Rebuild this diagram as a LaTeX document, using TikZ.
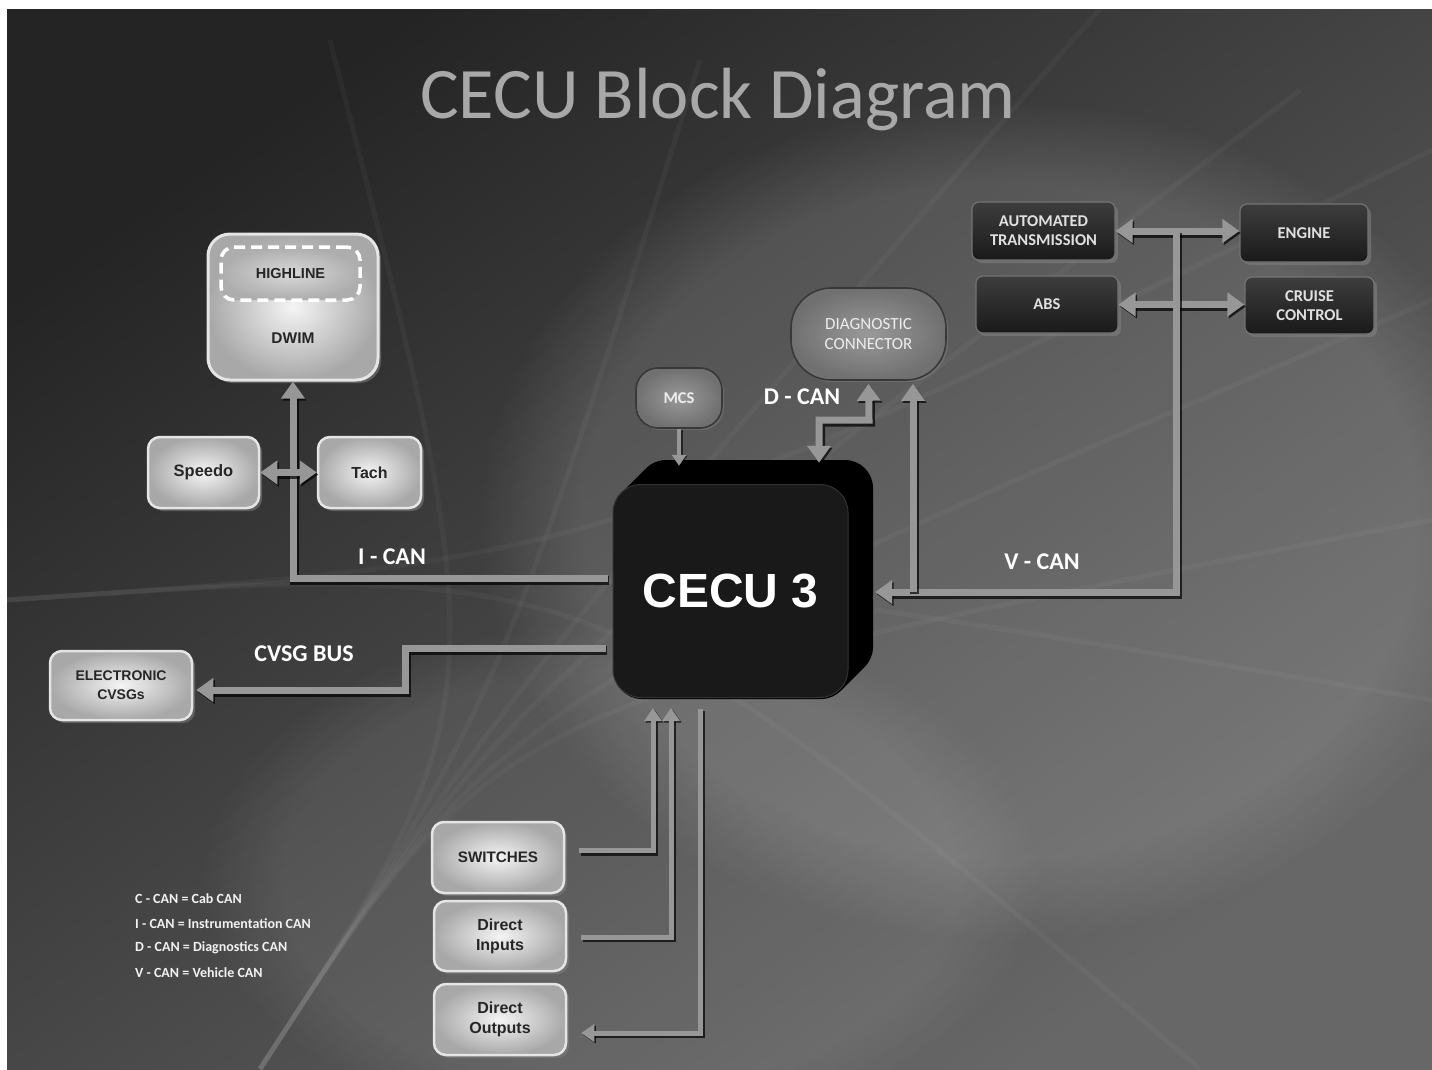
\documentclass[tikz,border=0pt]{standalone}
\usepackage{fontspec}
\setmainfont{Liberation Sans}
\newfontfamily\calf{Carlito}
\usetikzlibrary{arrows.meta,shadows,fadings,calc}
\definecolor{busgray}{HTML}{979797}
\definecolor{bgdark}{HTML}{242424}
\definecolor{bglight}{HTML}{676767}
\begin{document}
\begin{tikzpicture}[x=1pt,y=-1pt,
 lbox/.style={rounded corners=12pt, draw=white!90!black, line width=2.5pt, inner color=white!96!black, outer color=black!34, text=black!85, align=center, inner sep=0pt, font=\bfseries\fontsize{16}{20}\selectfont, drop shadow={shadow xshift=3pt,shadow yshift=-3pt,opacity=.55}},
 dbox/.style={rounded corners=7pt, draw=black!55, line width=1.2pt, top color=black!76, bottom color=black!90, text=white!88!black, align=center, inner sep=0pt, font=\calf\bfseries\fontsize{16.5}{19}\selectfont, drop shadow={shadow xshift=3pt,shadow yshift=-3pt,opacity=.6}},
 gbox/.style={draw=black!78, line width=1.6pt, inner color=black!40, outer color=black!56, text=white!93!black, align=center, inner sep=0pt, font=\calf\bfseries\fontsize{16.5}{19.5}\selectfont, drop shadow={shadow xshift=2pt,shadow yshift=-2pt,opacity=.45}},
 lbl/.style={text=white, font=\calf\bfseries\fontsize{24}{26}\selectfont, inner sep=0pt},
 leg/.style={text=white!95!black, font=\calf\bfseries\fontsize{14}{16}\selectfont, anchor=west, inner sep=0pt},
 bus/.style={draw=busgray, line width=7pt, >={Triangle[length=17pt,width=23pt]}, preaction={draw=black, opacity=.7, line width=9pt, transform canvas={shift={(1.5pt,-2pt)}}}},
 mbus/.style={draw=busgray, line width=5pt, >={Triangle[length=13pt,width=17pt]}, preaction={draw=black, opacity=.7, line width=7pt, transform canvas={shift={(1.5pt,-1.5pt)}}}},
 sbus/.style={draw=busgray, line width=4pt, >={Triangle[length=11pt,width=14pt]}, preaction={draw=black, opacity=.6, line width=5.5pt, transform canvas={shift={(1pt,-1pt)}}}}
]
\useasboundingbox (0,0) rectangle (1432,1069);
\fill[white] (0,0) rectangle (1432,1069);
% background
\shade[top color=bgdark, bottom color=bglight, shading angle=35] (7,9) rectangle (1432,1069);
\fill[white, opacity=.13, path fading=circle with fuzzy edge 20 percent] (1000,520) ellipse [x radius=520pt, y radius=420pt];
\fill[white, opacity=.08, path fading=circle with fuzzy edge 20 percent] (620,880) ellipse [x radius=420pt, y radius=260pt];
\begin{scope}[white, opacity=.035, line width=5pt]
 \foreach \a/\b in {330/40, 700/60, 1100/9, 1300/90, 1432/300, 1432/520}
   \draw (260,1069) .. controls (500,700) .. (\a,\b);
 \foreach \a/\b in {1432/150, 1432/700, 1200/1069}
   \draw (7,600) .. controls (600,560) .. (\a,\b);
\end{scope}

% title
\node[anchor=base, text=white!66!black, font=\calf\fontsize{72.5}{80}\selectfont, inner sep=0pt] (title) at (718,118) {CECU Block Diagram};

% CECU 3 (3-D block)
\node[fill=black, rounded corners=28pt, minimum width=235pt, minimum height=215pt, inner sep=0pt] (cecuback) at (755.5,567.5) {};
\foreach \d in {2,4,...,24}
  \fill[black, rounded corners=28pt] (638-\d,460+\d) rectangle (873-\d,675+\d);
\node[fill=black!90, draw=black!80, line width=1pt, rounded corners=28pt, minimum width=235pt, minimum height=213pt, inner sep=0pt, text=white, font=\bfseries\fontsize{48}{50}\selectfont] (cecu) at (730.5,591) {CECU 3};

% left boxes
\node[lbox, rounded corners=22pt, line width=3pt, minimum width=170pt, minimum height=146pt, label={[text=black!85, font=\bfseries\fontsize{15.5}{18}\selectfont, yshift=-31pt]center:DWIM}] (dwim) at (293,307) {};
\node[draw=white, line width=3.5pt, dash pattern=on 11pt off 6pt, rounded corners=13pt, inner color=white!85!black, outer color=black!32, minimum width=139pt, minimum height=53pt, inner sep=0pt, text=black!85, font=\bfseries\fontsize{14.5}{18}\selectfont] (highline) at (290.5,273.5) {HIGHLINE};
\node[lbox, minimum width=111pt, minimum height=71pt, font=\bfseries\fontsize{16.5}{20}\selectfont] (speedo) at (203.5,472.5) {Speedo};
\node[lbox, minimum width=103pt, minimum height=71pt] (tach) at (369.5,472.5) {Tach};
\node[lbox, minimum width=142pt, minimum height=69pt, font=\bfseries\fontsize{14}{19}\selectfont] (cvsg) at (121,685.5) {ELECTRONIC\\CVSGs};
\node[lbox, minimum width=132pt, minimum height=71pt, font=\bfseries\fontsize{15.2}{20}\selectfont] (switches) at (498,857.5) {SWITCHES};
\node[lbox, minimum width=132pt, minimum height=70pt] (dinputs) at (500,936) {Direct\\Inputs};
\node[lbox, minimum width=132pt, minimum height=71pt] (doutputs) at (500,1019.5) {Direct\\Outputs};

% gray boxes
\node[gbox, rounded corners=22pt, minimum width=86pt, minimum height=60pt] (mcs) at (679,398) {MCS};
\node[gbox, rounded corners=40pt, minimum width=155pt, minimum height=92pt, font=\calf\fontsize{17}{19.5}\selectfont] (diag) at (868.5,334) {DIAGNOSTIC\\CONNECTOR};

% dark boxes
\node[dbox, minimum width=143pt, minimum height=58pt] (autotrans) at (1043.5,231) {AUTOMATED\\TRANSMISSION};
\node[dbox, minimum width=128pt, minimum height=58pt] (engine) at (1304,233) {ENGINE};
\node[dbox, minimum width=142pt, minimum height=57pt] (abs) at (1047,304.5) {ABS};
\node[dbox, minimum width=129pt, minimum height=57pt] (cruise) at (1309.5,305.5) {CRUISE\\CONTROL};

% coordinates on the CECU
\coordinate (icanS) at ($(cecu.west)+(-5,-13)$);
\coordinate (cvS) at ($(cecu.west)+(-7,57)$);
\coordinate (vtop) at (1176,231);
\coordinate (vbr) at (913,592);

% I-CAN
\draw[bus,->] (icanS) -| (dwim.south);
\draw[bus,<->] (speedo.east) -- (tach.west);
% CVSG bus
\draw[bus,->] (cvS) -- (405,648) -- (405,690) -- ($(cvsg.east |- 0,690)+(3,0)$);
% MCS
\draw[sbus,->] (mcs.south) -- ($(mcs.south |- cecuback.north)+(0,6)$);
% D-CAN
\draw[bus,<->] ($(819,0 |- cecuback.north)+(0,3)$) -- (819,420) -- (869,420) -- ($(diag.south)+(0,3)$);
% V-CAN
\draw[bus,<->] (autotrans.east) -- (autotrans.east -| engine.west);
\draw[bus,<->] (abs.east) -- (abs.east -| cruise.west);
\draw[bus,->] (vtop) -- (1176,592) -- ($(cecuback.east |- 0,592)+(2,0)$);
\draw[bus,->] (vbr) -- ($(913,0 |- diag.south)+(0,3)$);
% bottom
\draw[mbus,->] ($(switches.east)+(14,-7)$) -| ($(cecu.south)+(-77.5,10)$);
\draw[mbus,->] ($(dinputs.east)+(14,1)$) -| ($(cecu.south)+(-59.5,10)$);
\draw[mbus,->] ($(cecu.south)+(-30.5,11)$) |- ($(doutputs.east)+(14,13.5)$);

% bus labels
\node[lbl] (ican) at (392,557) {I - CAN};
\node[lbl] (dcan) at (802,397) {D - CAN};
\node[lbl] (vcan) at (1042,562) {V - CAN};
\node[lbl] (cvsgbus) at (304,654) {CVSG BUS};

% legend
\node[leg] (leg1) at (135,899) {C - CAN = Cab CAN};
\node[leg] (leg2) at (135,924) {I - CAN = Instrumentation CAN};
\node[leg] (leg3) at (135,948) {D - CAN = Diagnostics CAN};
\node[leg] (leg4) at (135,973) {V - CAN = Vehicle CAN};
\end{tikzpicture}
\end{document}
